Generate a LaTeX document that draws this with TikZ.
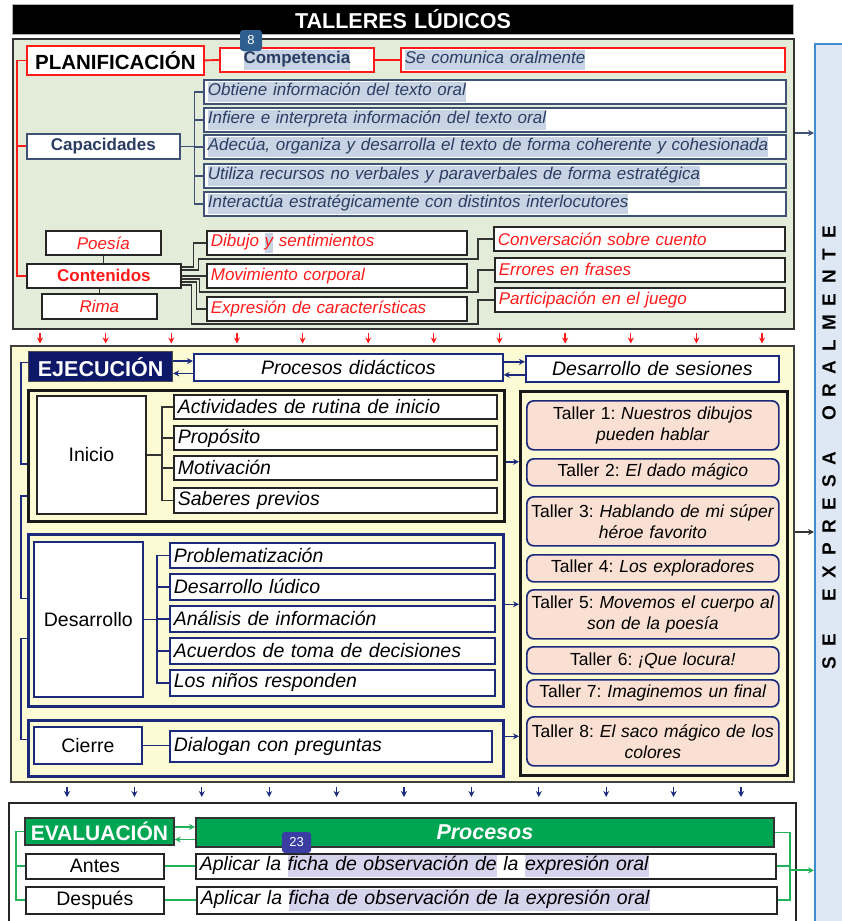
\documentclass[tikz,border=0pt]{standalone}
\usepackage{fontspec}
\setmainfont{Liberation Sans}
\usetikzlibrary{arrows.meta,calc}
\definecolor{plangreen}{HTML}{E3ECD9}
\definecolor{ejyellow}{HTML}{FCFBD3}
\definecolor{capnavy}{HTML}{3D5275}
\definecolor{captext}{HTML}{2B3D62}
\definecolor{hlblue}{HTML}{C8D4E3}
\definecolor{hlpurple}{HTML}{D6D3EC}
\definecolor{navyb}{HTML}{1B2A7C}
\definecolor{ejnavy}{HTML}{0E1868}
\definecolor{peach}{HTML}{F9E0D2}
\definecolor{evgreen}{HTML}{00A651}
\definecolor{glines}{HTML}{22B25A}
\definecolor{barblue}{HTML}{DEE8F4}
\definecolor{barline}{HTML}{3C8DD2}
\definecolor{badgeA}{HTML}{2F5E8E}
\definecolor{badgeB}{HTML}{3A3DA2}
\definecolor{rojo}{HTML}{FF1A1A}
\frenchspacing
\newcommand\fA{\fontsize{17}{20}\selectfont}
\newcommand\fB{\fontsize{19.5}{22}\selectfont}
\newcommand\fC{\fontsize{21.5}{24}\selectfont}
\newcommand\fT{\fontsize{17.5}{21}\selectfont}
\newcommand\hlb[1]{{\setlength{\fboxsep}{0pt}\colorbox{hlblue}{\strut #1}}}
\newcommand\hlp[1]{{\setlength{\fboxsep}{0pt}\colorbox{hlpurple}{\strut #1}}}
\newcommand\bx[7]{\pgfmathsetmacro\bxw{#4-#2}\pgfmathsetmacro\bxh{#5-#3}\pgfmathsetmacro\bxt{#4-#2-8}%
  \node[#1, anchor=north west, inner xsep=4pt, inner ysep=0pt, minimum width=\bxw pt, minimum height=\bxh pt, text width=\bxt pt] (#6) at (#2,#3) {#7};}
\tikzset{
  redbox/.style={draw=rojo, fill=white, line width=1.8pt},
  capbox/.style={draw=capnavy, fill=white, line width=1.7pt, text=captext, font=\fA\itshape, align=left},
  kbox/.style={draw=black!85, fill=white, line width=1.7pt},
  nbox/.style={draw=navyb, fill=white, line width=1.7pt},
  conbox/.style={kbox, text=rojo, font=\fA\itshape, align=left},
  ekitem/.style={kbox, font=\fB\itshape, align=left},
  enitem/.style={nbox, font=\fB\itshape, align=left},
  taller/.style={draw=navyb, fill=peach, line width=1.7pt, rounded corners=7pt, font=\fT, align=center},
  redl/.style={draw=rojo, line width=1.8pt},
  capl/.style={draw=capnavy, line width=1.5pt},
  kl/.style={draw=black!80, line width=1.4pt},
  navl/.style={draw=navyb, line width=1.6pt},
  glin/.style={draw=glines, line width=1.8pt},
  tip/.style={-{Stealth[length=6pt,width=6pt]}},
  badge/.style={text=white, rounded corners=3pt, font=\fontsize{13}{15}\selectfont, inner sep=0pt, minimum height=21pt},
  barletter/.style={font=\fontsize{19}{22}\selectfont\bfseries, rotate=90, inner sep=0pt}
}
\begin{document}
\begin{tikzpicture}[x=1pt,y=-1pt]
\useasboundingbox (0,0) rectangle (842,921);
\fill[white] (0,0) rectangle (842,921);
% right bar
\bx{draw=barline, fill=barblue, line width=1.5pt}{814}{43}{860}{945}{bar}{}
\foreach \l/\k in {S/0,E/1,E/3,X/4,P/5,R/6,E/7,S/8,A/9,O/11,R/12,A/13,L/14,M/15,E/16,N/17,T/18,E/19}
  {\node[barletter] (bl\k) at (829,{663-\k*22.7}) {\l};}
% title
\bx{draw=gray!60, fill=black, line width=1pt, text=white, font=\fC\bfseries, align=center}{12}{4}{793}{34}{title}{TALLERES LÚDICOS}
% ---------------- PLANIFICACION
\bx{draw=black!80, fill=plangreen, line width=2pt}{12}{38}{793}{328}{planP}{}
\bx{redbox, font=\fontsize{20.5}{24}\selectfont\bfseries, align=center}{26}{45}{203}{74}{plan}{PLANIFICACIÓN}
\bx{redbox, font=\fA\bfseries, text=captext, align=center}{219}{47}{373}{71}{comp}{\hlb{Competencia}}
\bx{redbox, font=\fA\itshape, text=captext, align=left}{400}{47}{784}{71}{secom}{\hlb{Se comunica oralmente}}
\bx{draw=capnavy, fill=white, line width=1.7pt, font=\fA\bfseries, text=captext, align=center}{26}{133}{179}{158}{cap}{Capacidades}
\bx{capbox}{203}{79}{785}{103}{c1}{\hlb{Obtiene información del texto oral}}
\bx{capbox}{203}{107}{785}{131}{c2}{\hlb{Infiere e interpreta información del texto oral}}
\bx{capbox}{203}{134}{785}{158}{c3}{\hlb{Adecúa, organiza y desarrolla el texto de forma coherente y cohesionada}}
\bx{capbox}{203}{163}{785}{187}{c4}{\hlb{Utiliza recursos no verbales y paraverbales de forma estratégica}}
\bx{capbox}{203}{191}{785}{215}{c5}{\hlb{Interactúa estratégicamente con distintos interlocutores}}
\bx{kbox, text=rojo, font=\fA\itshape, align=center}{45}{230}{160}{254}{poe}{Poesía}
\bx{kbox, text=rojo, font=\fA\bfseries, align=center}{26}{263}{180}{287}{cont}{Contenidos}
\bx{kbox, text=rojo, font=\fA\itshape, align=center}{41}{293}{156}{318}{rima}{Rima}
\bx{conbox}{206}{230}{466}{254}{dib}{Dibujo \hlb{y} sentimientos}
\bx{conbox}{206}{263}{466}{287}{mov}{Movimiento corporal}
\bx{conbox}{206}{296}{466}{320}{expr}{Expresión de características}
\bx{conbox}{493}{226}{784}{250}{conv}{Conversación sobre cuento}
\bx{conbox}{494}{257}{784}{281}{err}{Errores en frases}
\bx{conbox}{494}{287}{784}{311}{part}{Participación en el juego}
% connectors planificacion
\draw[redl] (plan.east) -- (comp.west);
\draw[redl] (comp.east) -- (secom.west);
\draw[redl] (plan.west) -- ++(-9,0) coordinate (rtop) |- (cont.west);
\draw[redl] (rtop) |- (cap.west);
\draw[capl] (cap.east) -- ++(14,0) coordinate (cb);
\foreach \n in {c1,c2,c3,c4,c5} {\draw[capl] (cb) |- (\n.west);}
\draw[kl] (poe.south) -- (poe.south |- cont.north);
\draw[kl] (rima.north) -- (rima.north |- cont.south);
\draw[kl] ([yshift=9pt]cont.east) -- ++(12,0) |- (dib.west);
\draw[kl] ([yshift=6pt]cont.east) -- ++(17,0) -- ++(0,-11) -| ([xshift=-15pt]conv.west) -- (conv.west);
\draw[kl] (cont.east) -- (mov.west);
\draw[kl] ([yshift=-3pt]cont.east) -- ++(18,0) -- ++(0,13) -| ([xshift=-16pt]err.west) -- (err.west);
\draw[kl] ([yshift=-6pt]cont.east) -- ++(15,0) |- (expr.west);
\draw[kl] ([yshift=-9pt]cont.east) -- ++(10,0) -- ++(0,39) -| ([xshift=-16pt]part.west) -- (part.west);
% ---------------- EJECUCION
\bx{draw=black!75, fill=ejyellow, line width=2pt}{10}{345}{793}{781}{ejP}{}
\bx{draw=black!70, fill=ejnavy, line width=1.2pt, text=white, font=\fC\bfseries, align=center}{28}{351}{172}{381}{ejec}{EJECUCIÓN}
\bx{nbox, font=\fB\itshape, align=center}{193}{353}{502}{380}{proc}{Procesos didácticos}
\bx{nbox, font=\fB\itshape, align=center}{525}{355}{778}{381}{dses}{Desarrollo de sesiones}
\bx{draw=black!90, fill=ejyellow, line width=2.6pt}{27}{389}{503}{520}{iniF}{}
\bx{kbox, font=\fB, align=center}{36}{395}{145}{513}{ini}{Inicio}
\bx{ekitem}{173}{394}{496}{418}{act}{Actividades de rutina de inicio}
\bx{ekitem}{173}{425}{496}{449}{prop}{Propósito}
\bx{ekitem}{173}{455}{496}{479}{mot}{Motivación}
\bx{ekitem}{173}{487}{496}{512}{sab}{Saberes previos}
\bx{draw=navyb, fill=ejyellow, line width=2.6pt}{27}{533}{502}{705}{desF}{}
\bx{nbox, font=\fB, align=center}{33}{541}{142}{696}{des}{Desarrollo}
\bx{enitem}{169}{542}{494}{567}{prob}{Problematización}
\bx{enitem}{169}{573}{494}{599}{dlud}{Desarrollo lúdico}
\bx{enitem}{169}{605}{494}{631}{anal}{Análisis de información}
\bx{enitem}{169}{637}{494}{663}{acu}{Acuerdos de toma de decisiones}
\bx{enitem}{169}{669}{494}{695}{nin}{Los niños responden}
\bx{draw=navyb, fill=ejyellow, line width=2.6pt}{27}{719}{502}{775}{cieF}{}
\bx{nbox, font=\fB, align=center}{33}{726}{141}{763}{cie}{Cierre}
\bx{enitem}{169}{730}{491}{761}{dial}{Dialogan con preguntas}
\bx{draw=black!90, fill=ejyellow, line width=2.6pt}{519}{390}{786}{774}{talF}{}
\bx{taller}{526}{400}{778}{449}{t1}{\mbox{Taller 1: \textit{Nuestros dibujos}}\\\mbox{\textit{pueden hablar}}}
\bx{taller}{526}{458}{778}{485}{t2}{\mbox{Taller 2: \textit{El dado mágico}}}
\bx{taller}{526}{496}{778}{545}{t3}{\mbox{Taller 3: \textit{Hablando de mi súper}}\\\mbox{\textit{héroe favorito}}}
\bx{taller}{526}{554}{778}{581}{t4}{\mbox{Taller 4: \textit{Los exploradores}}}
\bx{taller}{526}{589}{778}{638}{t5}{\mbox{Taller 5: \textit{Movemos el cuerpo al}}\\\mbox{\textit{son de la poesía}}}
\bx{taller}{526}{646}{778}{673}{t6}{\mbox{Taller 6: \textit{¡Que locura!}}}
\bx{taller}{526}{679}{778}{706}{t7}{\mbox{Taller 7: \textit{Imaginemos un final}}}
\bx{taller}{526}{716}{778}{765}{t8}{\mbox{Taller 8: \textit{El saco mágico de los}}\\\mbox{\textit{colores}}}
% connectors ejecucion
\draw[navl, tip] ([yshift=5.5pt]ejec.east) -- ([yshift=5.5pt]ejec.east -| proc.west);
\draw[navl, tip] ([yshift=-6pt]proc.west) -- ([yshift=-6pt]proc.west -| ejec.east);
\draw[navl, tip] ([yshift=5.5pt]proc.east) -- ([yshift=5.5pt]proc.east -| dses.west);
\draw[navl, tip] ([yshift=-6pt]dses.west) -- ([yshift=-6pt]dses.west -| proc.east);
\draw[navl] ([yshift=4pt]ejec.west) -- ++(-7,0) |- ([yshift=-8pt]iniF.west);
\draw[navl] ([yshift=-40pt]iniF.west) -- ++(-6,0) |- ([yshift=22pt]desF.west);
\draw[navl] ([yshift=-18pt]desF.west) -- ++(-6,0) |- ([yshift=9pt]cieF.west);
\draw[kl, line width=1.6pt] (ini.east) -- ++(15,0) coordinate (ib);
\foreach \n in {act,prop,mot,sab} {\draw[kl, line width=1.6pt] (ib) |- (\n.west);}
\draw[navl] (des.east) -- ++(13,0) coordinate (db);
\foreach \n in {prob,dlud,anal,acu,nin} {\draw[navl] (db) |- (\n.west);}
\draw[navl] (cie.east) -- (cie.east -| dial.west);
\draw[navl, tip] ([yshift=-6pt]iniF.east) -- ([yshift=-6pt]iniF.east -| talF.west);
\draw[navl, tip] ([yshift=16pt]desF.east) -- ([yshift=16pt]desF.east -| talF.west);
\draw[navl, tip] ([yshift=12pt]cieF.east) -- ([yshift=12pt]cieF.east -| talF.west);
% ---------------- EVALUACION
\bx{draw=black!85, fill=white, line width=1.8pt}{8}{802}{795}{945}{evP}{}
\bx{draw=black!80, fill=evgreen, line width=1.8pt, text=white, font=\fontsize{21}{24}\selectfont\bfseries, align=center}{24}{817}{173}{844}{eva}{EVALUACIÓN}
\bx{draw=black!80, fill=evgreen, line width=1.8pt, text=white, font=\fC\bfseries\itshape, align=center}{195}{817}{773}{846}{proE}{Procesos}
\bx{kbox, font=\fB, align=center}{25}{853}{163}{878}{antes}{Antes}
\bx{kbox, font=\fB\itshape, align=left}{195}{853}{775}{878}{ap1}{Aplicar la \hlp{ficha de observación de} la \hlp{expresión oral}}
\bx{kbox, font=\fB, align=center}{25}{886}{163}{913}{desp}{Después}
\bx{kbox, font=\fB\itshape, align=left}{196}{886}{776}{913}{ap2}{Aplicar la \hlp{ficha de observación de la expresión oral}}
\draw[glin, tip] ([yshift=4.5pt]eva.east) -- ([yshift=4.5pt]eva.east -| proE.west);
\draw[glin, tip] ([yshift=-7pt]proE.west) -- ([yshift=-7pt]proE.west -| eva.east);
\draw[glin] (eva.west) -- ++(-8,0) coordinate (gleft) |- (antes.west);
\draw[glin] (gleft) |- (desp.west);
\draw[glin] (antes.east) -- (ap1.west);
\draw[glin] (desp.east) -- (ap2.west);
\draw[glin] (proE.east) -- ++(15,0) coordinate (gr) |- (ap2.east);
\draw[glin] (gr) |- (ap1.east);
\coordinate (ga) at ($(gr |- ap1.east)+(0,4)$);
\draw[glin, tip] (ga) -- (ga -| bar.west);
% arrows to the bar
\draw[capl, tip] ([yshift=51pt]planP.east) -- ([yshift=51pt]planP.east -| bar.west);
\draw[kl, line width=1.6pt, tip] ([yshift=32pt]ejP.east) -- ([yshift=32pt]ejP.east -| bar.west);
% arrows between panels
\foreach \i in {0,...,11} {
  \pgfmathsetmacro\xx{40+\i*65.64}
  \coordinate (ra\i) at (\xx,0);
  \draw[draw=rojo, line width=1.3pt, tip, shorten <=3pt, shorten >=1.5pt] (planP.south -| ra\i) -- (ejP.north -| ra\i);
}
\foreach \i in {0,...,10} {
  \pgfmathsetmacro\xx{67+\i*67.4}
  \coordinate (ba\i) at (\xx,0);
  \draw[draw=navyb, line width=1.3pt, tip, shorten <=4pt, shorten >=5pt] (ejP.south -| ba\i) -- (evP.north -| ba\i);
}
% badges
\node[badge, fill=badgeA, minimum width=22pt] (b8) at (251,40.5) {8};
\node[badge, fill=badgeB, minimum width=29pt] (b23) at (296.5,842.5) {23};
\end{tikzpicture}
\end{document}
